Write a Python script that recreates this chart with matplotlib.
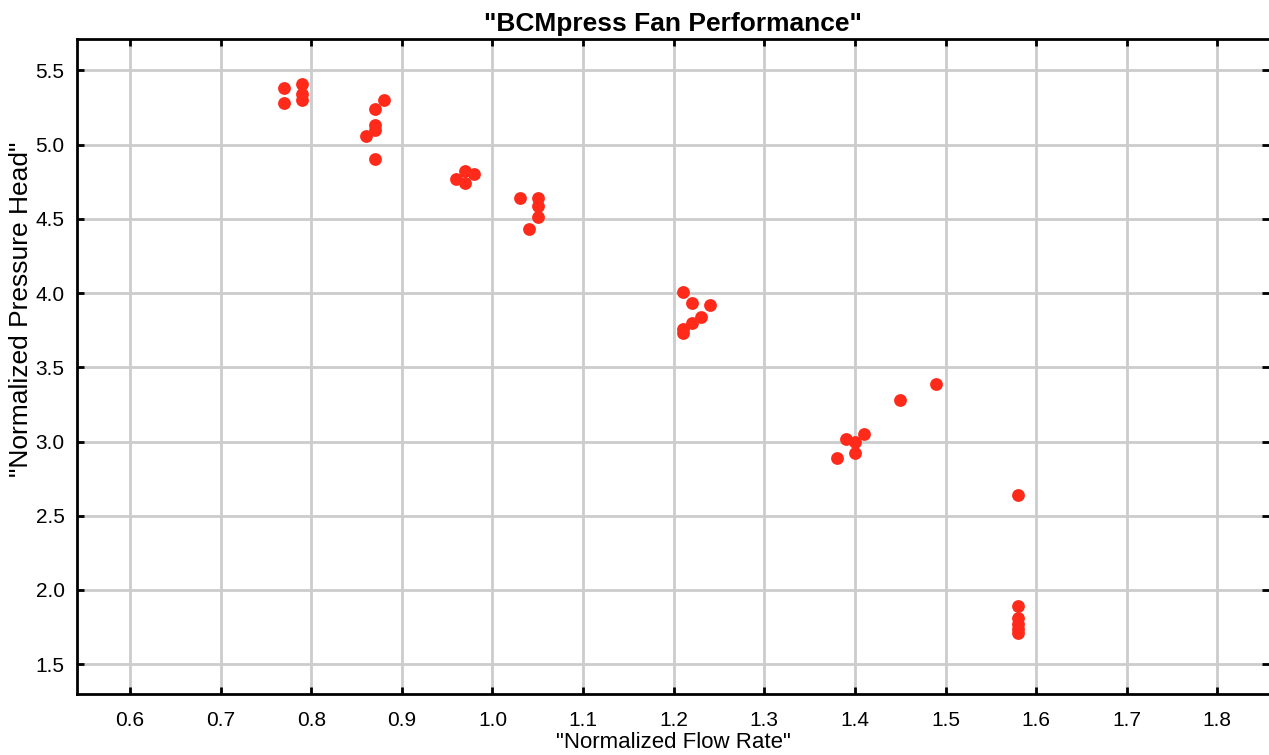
import matplotlib
matplotlib.use("Agg")
import matplotlib.pyplot as plt

plt.rcParams['font.family'] = ['Liberation Sans', 'DejaVu Sans']

# normalized flow rate / pressure head readings
flow = [0.77, 0.77, 0.79, 0.79, 0.79,
        0.86, 0.87, 0.87, 0.87, 0.87, 0.88,
        0.96, 0.97, 0.97, 0.98,
        1.03, 1.04, 1.05, 1.05, 1.05,
        1.21, 1.21, 1.21, 1.22, 1.22, 1.23, 1.24,
        1.38, 1.39, 1.40, 1.40, 1.41, 1.45, 1.49,
        1.58, 1.58, 1.58, 1.58, 1.58, 1.58]
head = [5.38, 5.28, 5.41, 5.34, 5.30,
        5.06, 5.24, 5.13, 5.10, 4.90, 5.30,
        4.77, 4.82, 4.74, 4.80,
        4.64, 4.43, 4.64, 4.59, 4.51,
        4.01, 3.76, 3.73, 3.93, 3.80, 3.84, 3.92,
        2.89, 3.02, 3.00, 2.92, 3.05, 3.28, 3.39,
        2.64, 1.89, 1.81, 1.77, 1.74, 1.71]

xticks = [0.6, 0.7, 0.8, 0.9, 1.0, 1.1, 1.2, 1.3, 1.4, 1.5, 1.6, 1.7, 1.8]
yticks = [1.5, 2.0, 2.5, 3.0, 3.5, 4.0, 4.5, 5.0, 5.5]

fig = plt.figure(figsize=(12.69, 7.55), dpi=100)
ax = fig.add_axes([0.0607, 0.081, 0.9393, 0.867])

ax.scatter(flow, head, s=85, color='#ff2a1a', zorder=3, linewidths=0)

ax.set_xlim(0.5415, 1.857)
ax.set_ylim(1.30, 5.71)
ax.set_xticks(xticks)
ax.set_yticks(yticks)
ax.set_xticklabels(['%.1f' % v for v in xticks])
ax.set_yticklabels(['%.1f' % v for v in yticks])

ax.grid(True, color='#cccccc', linewidth=2)
ax.set_axisbelow(True)
ax.tick_params(direction='in', length=5, width=2, labelsize=15,
               top=True, right=True, colors='black')
ax.tick_params(axis='x', pad=12)
ax.tick_params(axis='y', pad=9)
for side in ['left', 'bottom', 'top']:
    ax.spines[side].set_linewidth(2)
ax.spines['right'].set_visible(False)

ax.set_title('"BCMpress Fan Performance"', fontsize=19, fontweight='bold', pad=6)
ax.set_xlabel('"Normalized Flow Rate"', fontsize=16, labelpad=2)
ax.set_ylabel('"Normalized Pressure Head"', fontsize=19)
ax.yaxis.set_label_coords(-0.037, 0.588)

fig.savefig('out.png', dpi=100)
